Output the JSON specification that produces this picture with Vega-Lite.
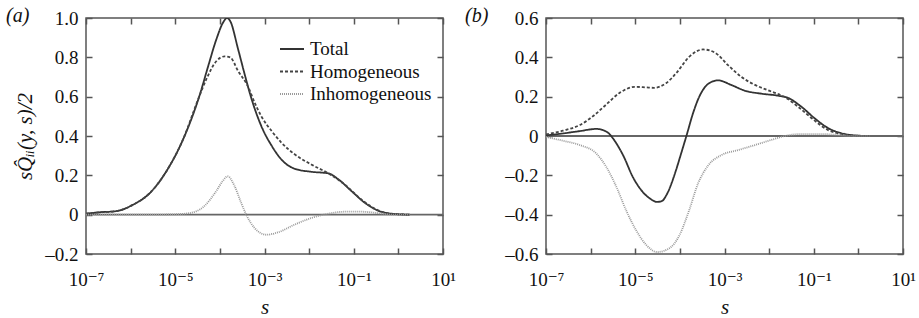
{
  "$schema": "https://vega.github.io/schema/vega-lite/v6.json",
  "background": "white",
  "padding": {"left": 5, "top": 5, "right": 5, "bottom": 0},
  "bounds": "flush",
  "spacing": 103,
  "datasets": {
    "a": [
      {"series":"Total","s":1e-7,"v":0.005},{"series":"Total","s":2e-7,"v":0.012},{"series":"Total","s":4.8e-7,"v":0.018},{"series":"Total","s":1.12e-6,"v":0.05},{"series":"Total","s":2.7e-6,"v":0.11},{"series":"Total","s":6.3e-6,"v":0.22},{"series":"Total","s":1.48e-5,"v":0.38},{"series":"Total","s":3.55e-5,"v":0.61},{"series":"Total","s":5.5e-5,"v":0.757},{"series":"Total","s":8.3e-5,"v":0.89},{"series":"Total","s":1.2e-4,"v":0.98},{"series":"Total","s":1.45e-4,"v":1.0},{"series":"Total","s":1.7e-4,"v":0.985},{"series":"Total","s":2.57e-4,"v":0.84},{"series":"Total","s":3.63e-4,"v":0.71},{"series":"Total","s":5.1e-4,"v":0.59},{"series":"Total","s":8.5e-4,"v":0.45},{"series":"Total","s":1.45e-3,"v":0.35},{"series":"Total","s":2.4e-3,"v":0.28},{"series":"Total","s":4.8e-3,"v":0.233},{"series":"Total","s":1.12e-2,"v":0.218},{"series":"Total","s":2.7e-2,"v":0.21},{"series":"Total","s":4.5e-2,"v":0.18},{"series":"Total","s":8.9e-2,"v":0.12},{"series":"Total","s":0.178,"v":0.06},{"series":"Total","s":0.355,"v":0.02},{"series":"Total","s":0.71,"v":0.005},{"series":"Total","s":1.8,"v":0},
      {"series":"Homogeneous","s":1e-7,"v":0.005},{"series":"Homogeneous","s":2e-7,"v":0.012},{"series":"Homogeneous","s":4.8e-7,"v":0.018},{"series":"Homogeneous","s":1.12e-6,"v":0.05},{"series":"Homogeneous","s":2.7e-6,"v":0.11},{"series":"Homogeneous","s":6.3e-6,"v":0.22},{"series":"Homogeneous","s":1.48e-5,"v":0.38},{"series":"Homogeneous","s":3.3e-5,"v":0.59},{"series":"Homogeneous","s":5e-5,"v":0.69},{"series":"Homogeneous","s":8.3e-5,"v":0.78},{"series":"Homogeneous","s":1.29e-4,"v":0.805},{"series":"Homogeneous","s":1.7e-4,"v":0.8},{"series":"Homogeneous","s":2.57e-4,"v":0.73},{"series":"Homogeneous","s":4.3e-4,"v":0.65},{"series":"Homogeneous","s":6e-4,"v":0.57},{"series":"Homogeneous","s":8.5e-4,"v":0.5},{"series":"Homogeneous","s":1.45e-3,"v":0.425},{"series":"Homogeneous","s":2.4e-3,"v":0.366},{"series":"Homogeneous","s":4.8e-3,"v":0.306},{"series":"Homogeneous","s":1.12e-2,"v":0.255},{"series":"Homogeneous","s":2.7e-2,"v":0.21},{"series":"Homogeneous","s":6.3e-2,"v":0.153},{"series":"Homogeneous","s":0.148,"v":0.077},{"series":"Homogeneous","s":0.355,"v":0.022},{"series":"Homogeneous","s":0.71,"v":0.004},{"series":"Homogeneous","s":1.8,"v":0},
      {"series":"Inhomogeneous","s":1e-7,"v":0},{"series":"Inhomogeneous","s":3e-6,"v":0},{"series":"Inhomogeneous","s":1e-5,"v":0.002},{"series":"Inhomogeneous","s":2.1e-5,"v":0.008},{"series":"Inhomogeneous","s":4.3e-5,"v":0.04},{"series":"Inhomogeneous","s":8.3e-5,"v":0.12},{"series":"Inhomogeneous","s":1.15e-4,"v":0.17},{"series":"Inhomogeneous","s":1.5e-4,"v":0.195},{"series":"Inhomogeneous","s":2.14e-4,"v":0.145},{"series":"Inhomogeneous","s":3e-4,"v":0.06},{"series":"Inhomogeneous","s":3.9e-4,"v":0},{"series":"Inhomogeneous","s":6e-4,"v":-0.068},{"series":"Inhomogeneous","s":1.1e-3,"v":-0.102},{"series":"Inhomogeneous","s":2e-3,"v":-0.09},{"series":"Inhomogeneous","s":4.8e-3,"v":-0.05},{"series":"Inhomogeneous","s":1.12e-2,"v":-0.017},{"series":"Inhomogeneous","s":2.7e-2,"v":0.005},{"series":"Inhomogeneous","s":6.3e-2,"v":0.015},{"series":"Inhomogeneous","s":0.148,"v":0.015},{"series":"Inhomogeneous","s":0.355,"v":0.008},{"series":"Inhomogeneous","s":0.83,"v":0},{"series":"Inhomogeneous","s":1.8,"v":0}
    ],
    "b": [
      {"series":"Total","s":1e-7,"v":0.003},{"series":"Total","s":2.4e-7,"v":0.013},{"series":"Total","s":5.75e-7,"v":0.025},{"series":"Total","s":1.35e-6,"v":0.036},{"series":"Total","s":2.45e-6,"v":0.017},{"series":"Total","s":3.16e-6,"v":-0.012},{"series":"Total","s":5.4e-6,"v":-0.1},{"series":"Total","s":8.9e-6,"v":-0.21},{"series":"Total","s":1.48e-5,"v":-0.285},{"series":"Total","s":2.2e-5,"v":-0.32},{"series":"Total","s":3.1e-5,"v":-0.335},{"series":"Total","s":4e-5,"v":-0.33},{"series":"Total","s":5e-5,"v":-0.3},{"series":"Total","s":8.3e-5,"v":-0.17},{"series":"Total","s":1e-4,"v":-0.11},{"series":"Total","s":1.4e-4,"v":0},{"series":"Total","s":2e-4,"v":0.12},{"series":"Total","s":2.6e-4,"v":0.19},{"series":"Total","s":3.3e-4,"v":0.235},{"series":"Total","s":4.3e-4,"v":0.265},{"series":"Total","s":7.2e-4,"v":0.283},{"series":"Total","s":1.4e-3,"v":0.26},{"series":"Total","s":2.9e-3,"v":0.23},{"series":"Total","s":6.8e-3,"v":0.215},{"series":"Total","s":1.58e-2,"v":0.205},{"series":"Total","s":2.7e-2,"v":0.193},{"series":"Total","s":5.2e-2,"v":0.15},{"series":"Total","s":0.105,"v":0.09},{"series":"Total","s":0.21,"v":0.04},{"series":"Total","s":0.42,"v":0.014},{"series":"Total","s":0.83,"v":0.003},{"series":"Total","s":1.8,"v":0},
      {"series":"Homogeneous","s":1e-7,"v":0.008},{"series":"Homogeneous","s":2.4e-7,"v":0.027},{"series":"Homogeneous","s":5.75e-7,"v":0.056},{"series":"Homogeneous","s":1.12e-6,"v":0.1},{"series":"Homogeneous","s":2.24e-6,"v":0.16},{"series":"Homogeneous","s":4.5e-6,"v":0.22},{"series":"Homogeneous","s":1e-5,"v":0.25},{"series":"Homogeneous","s":1.78e-5,"v":0.247},{"series":"Homogeneous","s":2.6e-5,"v":0.245},{"series":"Homogeneous","s":5e-5,"v":0.27},{"series":"Homogeneous","s":8.3e-5,"v":0.32},{"series":"Homogeneous","s":1.66e-4,"v":0.405},{"series":"Homogeneous","s":3.3e-4,"v":0.44},{"series":"Homogeneous","s":6e-4,"v":0.425},{"series":"Homogeneous","s":1.2e-3,"v":0.36},{"series":"Homogeneous","s":2.4e-3,"v":0.3},{"series":"Homogeneous","s":4.8e-3,"v":0.26},{"series":"Homogeneous","s":1.12e-2,"v":0.226},{"series":"Homogeneous","s":2.24e-2,"v":0.198},{"series":"Homogeneous","s":5.2e-2,"v":0.136},{"series":"Homogeneous","s":0.105,"v":0.078},{"series":"Homogeneous","s":0.21,"v":0.03},{"series":"Homogeneous","s":0.42,"v":0.01},{"series":"Homogeneous","s":0.83,"v":0.002},{"series":"Homogeneous","s":1.8,"v":0},
      {"series":"Inhomogeneous","s":1e-7,"v":-0.005},{"series":"Inhomogeneous","s":2.4e-7,"v":-0.024},{"series":"Inhomogeneous","s":5.75e-7,"v":-0.046},{"series":"Inhomogeneous","s":1.35e-6,"v":-0.09},{"series":"Inhomogeneous","s":2.24e-6,"v":-0.157},{"series":"Inhomogeneous","s":3.8e-6,"v":-0.26},{"series":"Inhomogeneous","s":6.3e-6,"v":-0.38},{"series":"Inhomogeneous","s":1.05e-5,"v":-0.48},{"series":"Inhomogeneous","s":1.78e-5,"v":-0.555},{"series":"Inhomogeneous","s":3.1e-5,"v":-0.59},{"series":"Inhomogeneous","s":5.9e-5,"v":-0.57},{"series":"Inhomogeneous","s":1e-4,"v":-0.5},{"series":"Inhomogeneous","s":1.6e-4,"v":-0.38},{"series":"Inhomogeneous","s":2.57e-4,"v":-0.24},{"series":"Inhomogeneous","s":4.3e-4,"v":-0.15},{"series":"Inhomogeneous","s":8.5e-4,"v":-0.097},{"series":"Inhomogeneous","s":2e-3,"v":-0.072},{"series":"Inhomogeneous","s":4.8e-3,"v":-0.046},{"series":"Inhomogeneous","s":1.12e-2,"v":-0.02},{"series":"Inhomogeneous","s":2.24e-2,"v":0},{"series":"Inhomogeneous","s":5.2e-2,"v":0.01},{"series":"Inhomogeneous","s":0.148,"v":0.01},{"series":"Inhomogeneous","s":0.355,"v":0.005},{"series":"Inhomogeneous","s":0.8,"v":0},{"series":"Inhomogeneous","s":1.8,"v":0}
    ]
  },
  "resolve": {
    "scale": {"color": "independent", "strokeDash": "independent"},
    "legend": {"color": "independent", "strokeDash": "independent"}
  },
  "hconcat": [
    {
      "width": 357,
      "height": 236,
      "title": {"text": "(a)", "anchor": "start", "frame": "group", "orient": "top", "dx": -80, "dy": 33, "offset": 0, "baseline": "alphabetic", "fontSize": 20, "fontStyle": "italic", "fontWeight": "normal", "font": "'Liberation Serif', 'Times New Roman', 'DejaVu Serif', serif", "color": "#111"},
      "layer": [
        {
          "data": {"values": [{"s0": 1e-7, "s1": 10, "z": 0}]},
          "mark": {"type": "rule", "color": "#666", "strokeWidth": 1.8},
          "encoding": {
            "x": {"field": "s0", "type": "quantitative", "scale": {"type": "log", "domain": [1e-7, 10], "nice": false},
                  "axis": {"orient": "top", "labels": false, "title": null, "values": [1e-7,1e-6,1e-5,1e-4,1e-3,1e-2,1e-1,1,10]}},
            "x2": {"field": "s1"},
            "y": {"field": "z", "type": "quantitative", "scale": {"domain": [-0.2, 1.0], "nice": false, "zero": false},
                  "axis": {"orient": "right", "labels": false, "title": null, "values": [-0.2,0,0.2,0.4,0.6,0.8,1.0]}}
          }
        },
        {
          "data": {"name": "a"},
          "mark": {"type": "line", "strokeWidth": 1.8, "clip": true, "interpolate": "monotone"},
          "encoding": {
            "x": {"field": "s", "type": "quantitative", "scale": {"type": "log", "domain": [1e-7, 10], "nice": false},
                  "axis": {"orient": "bottom", "title": "s", "labelPadding": 22, "titlePadding": 7, "values": [1e-7,1e-6,1e-5,1e-4,1e-3,1e-2,1e-1,1,10],
                           "labelExpr": "round(log(datum.value)/LN10) == -7 ? '10⁻⁷' : round(log(datum.value)/LN10) == -5 ? '10⁻⁵' : round(log(datum.value)/LN10) == -3 ? '10⁻³' : round(log(datum.value)/LN10) == -1 ? '10⁻¹' : round(log(datum.value)/LN10) == 1 ? '10¹' : ''"}},
            "y": {"field": "v", "type": "quantitative", "scale": {"domain": [-0.2, 1.0], "nice": false, "zero": false},
                  "axis": {"orient": "left", "title": "sQ̂ᵢᵢ(y, s)/2", "labelPadding": 14, "titlePadding": 9, "values": [-0.2,0,0.2,0.4,0.6,0.8,1.0],
                           "labelExpr": "datum.value == 0 ? '0' : replace(replace(format(datum.value, '.1f'), '-', '–'), '−', '–')"}},
            "color": {"field": "series", "type": "nominal",
                      "scale": {"domain": ["Total", "Homogeneous", "Inhomogeneous"], "range": ["#333333", "#444444", "#9a9a9a"]},
                      "legend": {"orient": "none", "legendX": 193, "legendY": 21, "title": null, "symbolType": "stroke", "symbolSize": 576, "symbolStrokeWidth": 2, "clipHeight": 20, "labelFontSize": 19, "labelFont": "'Liberation Serif', 'Times New Roman', 'DejaVu Serif', serif", "labelColor": "#111", "labelOffset": 5, "rowPadding": 2.5, "padding": 0}},
            "strokeDash": {"field": "series", "type": "nominal",
                      "scale": {"domain": ["Total", "Homogeneous", "Inhomogeneous"], "range": [[1, 0], [3, 2], [1, 1]]},
                      "legend": {"orient": "none", "legendX": 193, "legendY": 21, "title": null, "symbolType": "stroke", "symbolSize": 576, "symbolStrokeWidth": 2, "clipHeight": 20, "labelFontSize": 19, "labelFont": "'Liberation Serif', 'Times New Roman', 'DejaVu Serif', serif", "labelColor": "#111", "labelOffset": 5, "rowPadding": 2.5, "padding": 0}}
          }
        }
      ],
      "resolve": {"axis": {"x": "independent", "y": "independent"}}
    },
    {
      "width": 357,
      "height": 236,
      "title": {"text": "(b)", "anchor": "start", "frame": "group", "orient": "top", "dx": -81, "dy": 33, "offset": 0, "baseline": "alphabetic", "fontSize": 20, "fontStyle": "italic", "fontWeight": "normal", "font": "'Liberation Serif', 'Times New Roman', 'DejaVu Serif', serif", "color": "#111"},
      "layer": [
        {
          "data": {"values": [{"s0": 1e-7, "s1": 10, "z": 0}]},
          "mark": {"type": "rule", "color": "#666", "strokeWidth": 1.8},
          "encoding": {
            "x": {"field": "s0", "type": "quantitative", "scale": {"type": "log", "domain": [1e-7, 10], "nice": false},
                  "axis": {"orient": "top", "labels": false, "title": null, "values": [1e-7,1e-6,1e-5,1e-4,1e-3,1e-2,1e-1,1,10]}},
            "x2": {"field": "s1"},
            "y": {"field": "z", "type": "quantitative", "scale": {"domain": [-0.6, 0.6], "nice": false, "zero": false},
                  "axis": {"orient": "right", "labels": false, "title": null, "values": [-0.6,-0.4,-0.2,0,0.2,0.4,0.6]}}
          }
        },
        {
          "data": {"name": "b"},
          "mark": {"type": "line", "strokeWidth": 1.8, "clip": true, "interpolate": "monotone"},
          "encoding": {
            "x": {"field": "s", "type": "quantitative", "scale": {"type": "log", "domain": [1e-7, 10], "nice": false},
                  "axis": {"orient": "bottom", "title": "s", "labelPadding": 22, "titlePadding": 7, "values": [1e-7,1e-6,1e-5,1e-4,1e-3,1e-2,1e-1,1,10],
                           "labelExpr": "round(log(datum.value)/LN10) == -7 ? '10⁻⁷' : round(log(datum.value)/LN10) == -5 ? '10⁻⁵' : round(log(datum.value)/LN10) == -3 ? '10⁻³' : round(log(datum.value)/LN10) == -1 ? '10⁻¹' : round(log(datum.value)/LN10) == 1 ? '10¹' : ''"}},
            "y": {"field": "v", "type": "quantitative", "scale": {"domain": [-0.6, 0.6], "nice": false, "zero": false},
                  "axis": {"orient": "left", "title": null, "labelPadding": 14, "values": [-0.6,-0.4,-0.2,0,0.2,0.4,0.6],
                           "labelExpr": "datum.value == 0 ? '0' : replace(replace(format(datum.value, '.1f'), '-', '–'), '−', '–')"}},
            "color": {"field": "series", "type": "nominal",
                      "scale": {"domain": ["Total", "Homogeneous", "Inhomogeneous"], "range": ["#333333", "#444444", "#9a9a9a"]},
                      "legend": null},
            "strokeDash": {"field": "series", "type": "nominal",
                      "scale": {"domain": ["Total", "Homogeneous", "Inhomogeneous"], "range": [[1, 0], [3, 2], [1, 1]]},
                      "legend": null}
          }
        }
      ],
      "resolve": {"axis": {"x": "independent", "y": "independent"}}
    }
  ],
  "config": {
    "font": "'Liberation Serif', 'Times New Roman', 'DejaVu Serif', serif",
    "view": {"stroke": "#555", "strokeWidth": 1.5},
    "axis": {
      "domain": false, "grid": false,
      "tickColor": "#555", "tickWidth": 1.5, "tickSize": -6,
      "labelFont": "'Liberation Serif', 'Times New Roman', 'DejaVu Serif', serif", "labelFontSize": 19, "labelColor": "#111",
      "labelFlush": false, "labelOverlap": false,
      "titleFont": "'Liberation Serif', 'Times New Roman', 'DejaVu Serif', serif", "titleFontSize": 21, "titleFontWeight": "normal", "titleFontStyle": "italic", "titleColor": "#111", "titlePadding": 4
    }
  }
}
